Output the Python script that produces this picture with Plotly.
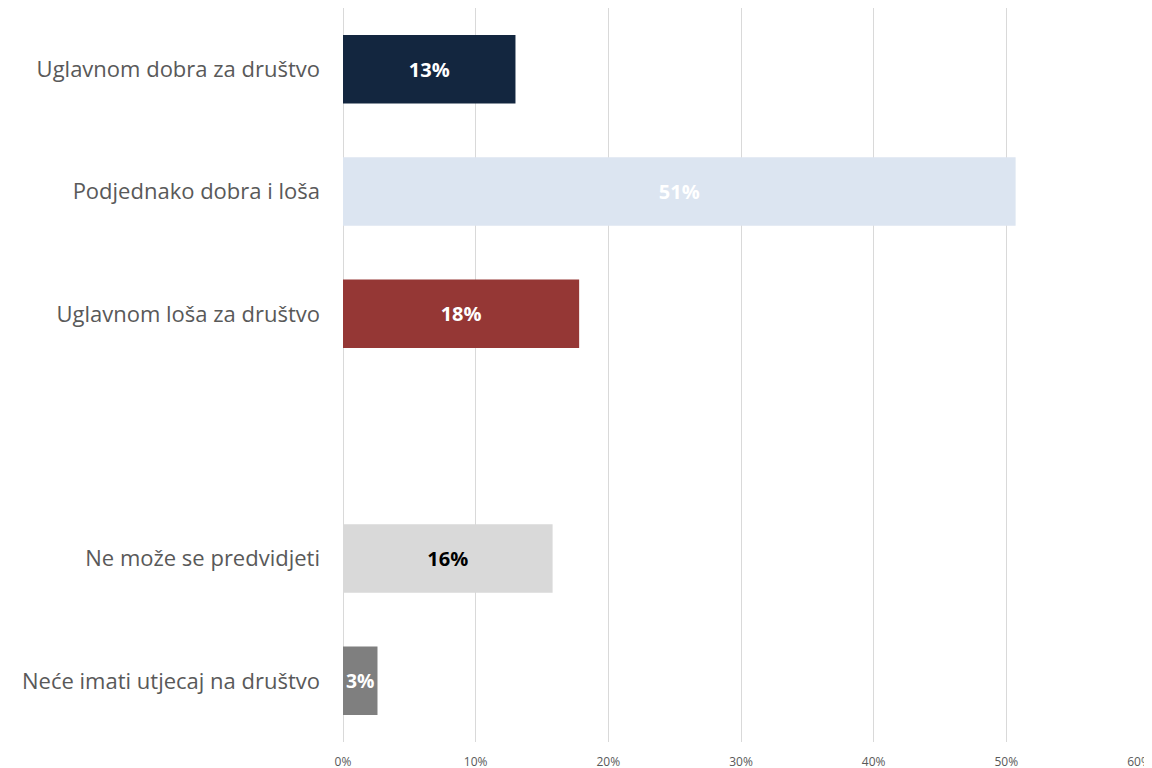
import plotly.graph_objects as go

categories = ['Uglavnom dobra za društvo', 'Podjednako dobra i loša', 'Uglavnom loša za društvo',
              ' ', 'Ne može se predvidjeti', 'Neće imati utjecaj na društvo']
plot_cats = ['Uglavnom dobra za društvo', 'Podjednako dobra i loša', 'Uglavnom loša za društvo',
             'Ne može se predvidjeti', 'Neće imati utjecaj na društvo']
values = [0.13, 0.507, 0.178, 0.158, 0.026]
labels = ['13%', '51%', '18%', '16%', '3%']
bar_colors = ['#13263F', '#DCE5F1', '#953735', '#D9D9D9', '#7F7F7F']
text_colors = ['white', 'white', 'white', 'black', 'white']

fig = go.Figure(go.Bar(
    x=values,
    y=plot_cats,
    orientation='h',
    width=0.56,
    marker=dict(color=bar_colors, line=dict(width=0)),
    text=labels,
    textposition='inside',
    insidetextanchor='middle',
    textangle=0,
    textfont=dict(family='Open Sans', size=20, color=text_colors, weight='bold'),
    hoverinfo='skip'))

# page body adds 8px offset, margins compensate
fig.update_layout(
    width=1152, height=768,
    margin=dict(l=335, r=21, t=0, b=34),
    plot_bgcolor='white', paper_bgcolor='white',
    showlegend=False,
    uniformtext=dict(mode=False),
    font=dict(family='Open Sans', color='#595959'))

fig.update_xaxes(
    range=[0, 0.6], dtick=0.1, tickformat='.0%',
    showgrid=True, gridcolor='#D9D9D9', gridwidth=1,
    zeroline=True, zerolinecolor='#D9D9D9', zerolinewidth=1,
    showline=False, ticks='', automargin=False,
    tickfont=dict(size=12, color='#595959'),
    ticklabelstandoff=11)

fig.update_yaxes(
    type='category', categoryorder='array', categoryarray=categories,
    autorange='reversed', range=[5.5, -0.5],
    showgrid=False, showline=False, ticks='', automargin=False,
    tickfont=dict(size=22, color='#595959'),
    ticklabelstandoff=22)

fig.write_html('out.html')
